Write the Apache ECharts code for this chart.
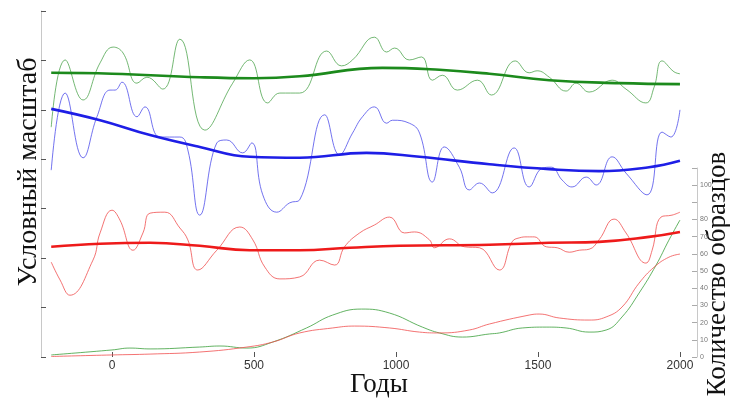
<!DOCTYPE html>
<html>
<head>
<meta charset="utf-8">
<script src="https://cdn.jsdelivr.net/npm/echarts@6/dist/echarts.min.js"></script>
<style>html,body{margin:0;padding:0;background:#fff}#c{width:730px;height:401px}</style>
</head>
<body>
<div id="c"></div>
<script>
// x tick labels (years)
const yearTicks = [0, 500, 1000, 1500, 2000];
// right axis tick labels (sample count)
const countTicks = [0, 10, 20, 30, 40, 50, 60, 70, 80, 100];

// Conditional scale series: [year, value]
const greenThin = [[-214,46.5],[-165,60.1],[-102,52.0],[-42,59.5],[4,62.7],[39,61.5],[88,55.4],[123,56.6],[179,54.2],[239,64.3],[327,45.9],[425,55.4],[485,60.1],[548,51.4],[591,53.4],[661,53.4],[756,61.9],[808,58.9],[847,60.1],[924,64.7],[967,61.7],[995,62.5],[1047,60.1],[1090,60.7],[1128,56.0],[1163,57.0],[1216,54.0],[1287,56.0],[1336,53.0],[1420,59.9],[1469,57.5],[1497,57.9],[1540,56.6],[1599,53.8],[1634,55.4],[1680,53.6],[1761,56.0],[1810,54.2],[1880,51.4],[1909,54.6],[1937,59.9],[1979,57.7],[2000,57.3]];
const greenTrend = [[-214,57.5],[0,57.3],[309,56.6],[500,56.4],[661,56.8],[952,58.5],[1153,58.1],[1329,57.3],[1540,56.0],[1786,55.4],[2000,55.2]];

const blueThin = [[-214,37.8],[-165,53.4],[-102,40.3],[-53,48.6],[-7,54.0],[11,54.0],[35,55.6],[88,48.6],[116,50.6],[169,44.5],[239,44.5],[267,41.9],[309,28.7],[369,43.3],[404,43.9],[460,41.3],[492,43.3],[531,32.8],[580,29.3],[626,31.2],[661,31.8],[749,49.0],[801,40.9],[847,45.3],[882,48.6],[924,50.6],[967,47.3],[988,47.9],[1047,47.3],[1083,45.3],[1128,35.4],[1170,42.5],[1223,38.4],[1258,33.8],[1294,35.2],[1339,33.2],[1416,42.3],[1469,34.4],[1515,38.2],[1547,38.4],[1585,35.8],[1620,34.4],[1670,36.4],[1705,34.8],[1761,40.5],[1810,37.2],[1884,32.8],[1937,45.5],[1968,44.5],[2000,50.0]];
const blueTrend = [[-214,50.2],[-42,47.9],[134,44.9],[309,42.5],[485,40.5],[661,40.3],[896,41.3],[1083,40.5],[1329,39.0],[1540,38.0],[1715,37.6],[1891,38.4],[2000,39.7]];

const redThin = [[-214,19.2],[-183,15.6],[-148,12.5],[-67,19.6],[-42,25.1],[0,29.7],[28,27.7],[74,21.6],[109,25.1],[134,29.1],[186,29.3],[239,26.1],[267,23.7],[302,17.6],[369,21.6],[450,26.3],[496,23.7],[538,18.2],[591,15.8],[661,16.2],[731,19.6],[784,18.6],[819,22.3],[872,25.1],[924,26.7],[977,28.3],[1030,25.1],[1065,25.3],[1118,23.7],[1135,22.1],[1188,23.9],[1241,22.3],[1294,22.1],[1364,17.6],[1409,23.3],[1434,24.1],[1462,24.3],[1487,24.3],[1529,22.3],[1568,22.1],[1610,21.2],[1645,21.6],[1680,21.8],[1715,23.7],[1768,27.9],[1810,25.1],[1880,19.0],[1902,21.6],[1933,28.3],[1972,28.7],[2000,29.3]];
const redTrend = [[-214,22.3],[-42,22.9],[134,23.1],[309,22.5],[485,21.6],[661,21.6],[837,22.1],[1012,22.5],[1329,22.7],[1540,23.1],[1715,23.3],[1891,24.3],[2000,25.3]];

// Sample counts: [year, count]
const greenCount = [[-214,1.2],[0,4.1],[63,5.2],[134,4.7],[309,5.8],[380,6.4],[475,5.2],[566,8.7],[685,16.9],[777,24.4],[879,27.9],[977,25.6],[1093,17.4],[1153,14.0],[1234,11.6],[1329,13.4],[1364,14.0],[1445,16.9],[1529,17.4],[1599,16.9],[1680,14.5],[1740,15.7],[1796,23.3],[1856,37.2],[1916,53.5],[1961,68.0],[2000,79.7]];
const redCount = [[-214,0.3],[0,1.2],[134,1.7],[309,2.9],[475,5.8],[566,8.7],[661,14.0],[777,16.9],[854,18.0],[977,16.9],[1083,14.5],[1153,14.0],[1258,15.7],[1329,19.2],[1469,24.4],[1504,25.0],[1575,22.7],[1680,21.5],[1740,23.3],[1796,29.1],[1856,43.0],[1909,52.3],[1961,58.1],[2000,59.9]];

const chart = echarts.init(document.getElementById('c'), null, {renderer: 'canvas'});
const thin = (c) => ({color: c, width: 1});
const thick = (c) => ({color: c, width: 2.6});
const base = {type: 'line', showSymbol: false, symbol: 'none', smooth: 0.45, animation: false};

chart.setOption({
  backgroundColor: '#ffffff',
  animation: false,
  grid: [
    {left: 41, right: 33, top: 11, bottom: 44},
    {left: 41, right: 33, top: 168, bottom: 44}
  ],
  xAxis: [
    {
      type: 'value', gridIndex: 0, min: -250, max: 2060,
      splitLine: {show: false},
      axisLine: {show: false, onZero: false},
      axisTick: {show: true, inside: true, length: 5, lineStyle: {color: '#555'}, customValues: yearTicks},
      axisLabel: {color: '#333', fontSize: 12, fontFamily: 'Liberation Sans, Arial, sans-serif', margin: 3, customValues: yearTicks,
        formatter: (v) => String(v)}
    },
    {
      type: 'value', gridIndex: 1, min: -250, max: 2060, show: false, axisLine: {onZero: false}
    }
  ],
  yAxis: [
    {
      type: 'value', gridIndex: 0, min: 0, max: 70, interval: 10,
      splitLine: {show: false},
      axisLine: {show: true, onZero: false, lineStyle: {color: '#c8c8c8', width: 1}},
      axisTick: {show: true, inside: true, length: 5, lineStyle: {color: '#555'}},
      axisLabel: {show: false}
    },
    {
      type: 'value', gridIndex: 1, position: 'right', min: 0, max: 110, interval: 10,
      splitLine: {show: false},
      axisLine: {show: true, onZero: false, lineStyle: {color: '#c8c8c8', width: 1}},
      axisTick: {show: true, inside: true, length: 5, lineStyle: {color: '#aaa'}},
      axisLabel: {color: '#777', fontSize: 7, margin: 3, fontFamily: 'Liberation Sans, Arial, sans-serif',
        formatter: (v) => countTicks.indexOf(v) >= 0 ? String(v) : ''}
    }
  ],
  graphic: [
    {type: 'text', x: 29, y: 172, rotation: Math.PI / 2,
      style: {text: 'Условный масштаб', font: '28px "Liberation Serif", "Times New Roman", serif', fill: '#111', textAlign: 'center', textVerticalAlign: 'middle'}},
    {type: 'text', x: 718, y: 274, rotation: Math.PI / 2,
      style: {text: 'Количество образцов', font: '27px "Liberation Serif", "Times New Roman", serif', fill: '#111', textAlign: 'center', textVerticalAlign: 'middle'}},
    {type: 'text', x: 379, y: 385,
      style: {text: 'Годы', font: '27px "Liberation Serif", "Times New Roman", serif', fill: '#111', textAlign: 'center', textVerticalAlign: 'middle'}}
  ],
  series: [
    Object.assign({}, base, {name: 'greenThin', data: greenThin, xAxisIndex: 0, yAxisIndex: 0, lineStyle: thin('rgba(70,160,70,0.75)'), z: 2}),
    Object.assign({}, base, {name: 'blueThin', data: blueThin, xAxisIndex: 0, yAxisIndex: 0, lineStyle: thin('rgba(80,80,235,0.8)'), z: 2}),
    Object.assign({}, base, {name: 'redThin', data: redThin, xAxisIndex: 0, yAxisIndex: 0, lineStyle: thin('rgba(240,80,80,0.8)'), z: 2}),
    Object.assign({}, base, {name: 'greenCount', data: greenCount, xAxisIndex: 1, yAxisIndex: 1, lineStyle: thin('rgba(60,160,60,0.8)'), z: 2}),
    Object.assign({}, base, {name: 'redCount', data: redCount, xAxisIndex: 1, yAxisIndex: 1, lineStyle: thin('rgba(240,80,80,0.8)'), z: 2}),
    Object.assign({}, base, {name: 'greenTrend', data: greenTrend, xAxisIndex: 0, yAxisIndex: 0, lineStyle: thick('#1c8a1c'), z: 3}),
    Object.assign({}, base, {name: 'blueTrend', data: blueTrend, xAxisIndex: 0, yAxisIndex: 0, lineStyle: thick('#1e1ee6'), z: 3}),
    Object.assign({}, base, {name: 'redTrend', data: redTrend, xAxisIndex: 0, yAxisIndex: 0, lineStyle: thick('#ee1a1a'), z: 3})
  ]
});
</script>
</body>
</html>
